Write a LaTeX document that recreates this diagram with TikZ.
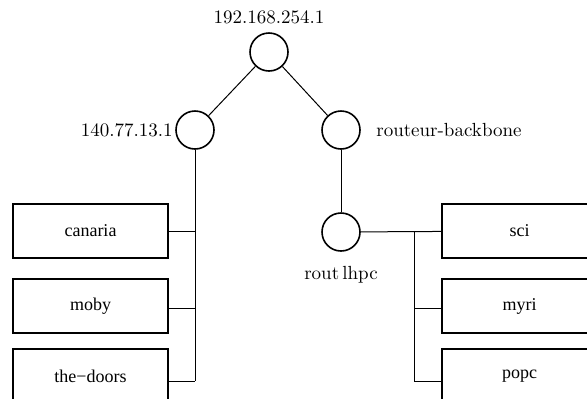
\documentclass[tikz,border=0pt]{standalone}
\usepackage{fontspec}
\newfontfamily\hostfont{Liberation Serif}
\usetikzlibrary{positioning}

\begin{document}
\begin{tikzpicture}[x=0.5pt, y=-0.5pt, line width=0.5pt,
    router/.style={draw, circle, line width=0.8pt, minimum size=19pt, inner sep=0pt},
    host/.style={draw, line width=0.8pt, minimum width=77.5pt, minimum height=27pt, font=\hostfont\fontsize{9}{11}\selectfont},
    lbl/.style={font=\fontsize{9.5}{11}\selectfont, inner sep=1pt}]
  \useasboundingbox (0,0) rectangle (587,398);
  \clip (0,0) rectangle (587,398);
  % routeurs
  \node[router] (top) at (269,52) {};
  \node[router] (left) at (195,130) {};
  \node[router] (backbone) at (341,130) {};
  \node[router] (lhpc) at (341,232) {};
  \node[lbl, above=3pt of top] (topname) {192.168.254.1};
  \node[lbl, left=0pt of left] (leftname) {140.77.13.1};
  \node[lbl, right=6.5pt of backbone] (backbonename) {routeur-backbone};
  \node[lbl, below=6pt of lhpc] (lhpcname) {rout\,lhpc};
  % machines
  \node[host] (canaria) at (90.5,231) {canaria};
  \node[host] (moby) at (90.5,306) {moby};
  \node[host] (thedoors) at (90.5,376) {the−doors};
  \node[host] (sci) at (519.5,231) {sci};
  \node[host] (myri) at (519.5,306) {myri};
  \node[host] (popc) at (519.5,376) {popc};
  \coordinate (leftbus) at (195,381);
  \coordinate (rightbus) at (414,381);
  % liaisons
  \draw (top) -- (left);
  \draw (top) -- (backbone);
  \draw (backbone) -- (lhpc);
  \draw (left) -- (leftbus);
  \draw (canaria.east) -- (canaria.east -| leftbus);
  \draw ([yshift=-1pt]moby.east) -- ([yshift=-1pt]moby.east -| leftbus);
  \draw ([yshift=-2.5pt]thedoors.east) -- (leftbus);
  \draw (lhpc) -- (sci);
  \draw (lhpc.east -| rightbus) -- (rightbus);
  \draw ([yshift=-1pt]myri.west) -- ([yshift=-1pt]myri.west -| rightbus);
  \draw ([yshift=-2.5pt]popc.west) -- (rightbus);
\end{tikzpicture}
\end{document}
